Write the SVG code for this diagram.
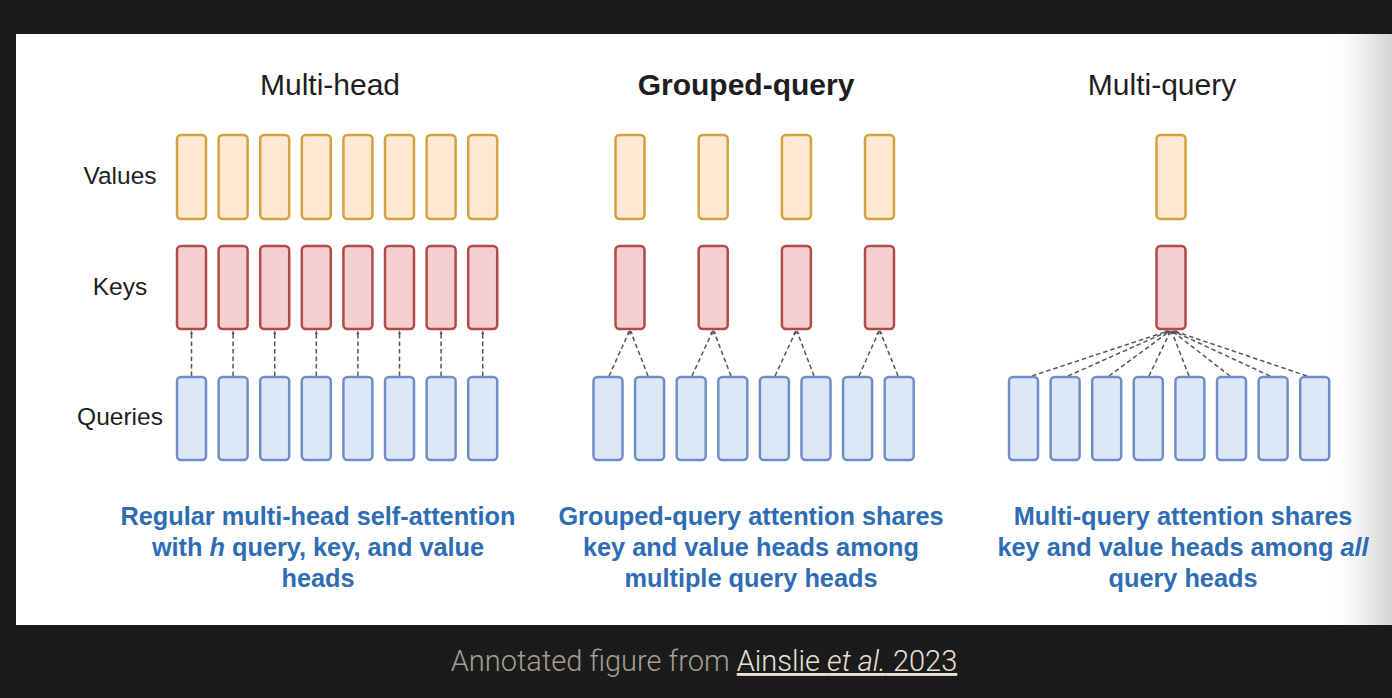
<svg xmlns="http://www.w3.org/2000/svg" width="1392" height="698" viewBox="0 0 1392 698">
<defs>
<linearGradient id="edge" x1="0" y1="0" x2="1" y2="0">
<stop offset="0" stop-color="#ffffff" stop-opacity="0"/>
<stop offset="0.55" stop-color="#efefef" stop-opacity="1"/>
<stop offset="1" stop-color="#d4d4d4" stop-opacity="1"/>
</linearGradient>
<marker id="ah" viewBox="0 0 6 6" refX="5" refY="3" markerWidth="4" markerHeight="4" orient="auto" markerUnits="userSpaceOnUse">
<path d="M0,0.5 L6,3 L0,5.5 Z" fill="#555"/>
</marker>
<style>
.v{fill:#fce8d3;stroke:#d4a23c;stroke-width:2.5}
.k{fill:#f4cfcf;stroke:#b24a48;stroke-width:2.5}
.q{fill:#dce7f8;stroke:#6e8fc6;stroke-width:2.5}
.c line{stroke:#555;stroke-width:1.5;stroke-dasharray:4.5 3;marker-end:url(#ah)}
.title{font-family:"Liberation Sans",Arial,sans-serif;font-size:30px;fill:#1e1e1e;text-anchor:middle}
.row{font-family:"Liberation Sans",Arial,sans-serif;font-size:24.5px;fill:#1e1e1e;text-anchor:middle}
.cap{font-family:"Liberation Sans",Arial,sans-serif;font-size:25.3px;font-weight:bold;fill:#2e6db4;text-anchor:middle}
.foot{font-family:Roboto,"Liberation Sans",sans-serif;font-size:29px;font-weight:300;text-anchor:middle}
</style>
</defs>
<rect x="0" y="0" width="1392" height="698" fill="#1b1b1b"/>
<rect x="16" y="34" width="1376" height="591" fill="#ffffff"/>
<rect x="1328" y="34" width="64" height="591" fill="url(#edge)"/>

<text class="title" x="330" y="95">Multi-head</text>
<text class="title" x="746" y="95" font-weight="bold">Grouped-query</text>
<text class="title" x="1162" y="95">Multi-query</text>

<text class="row" x="120" y="184">Values</text>
<text class="row" x="120" y="295">Keys</text>
<text class="row" x="120" y="425">Queries</text>

<g id="connectors" class="c">
<line x1="191.5" y1="376" x2="191.5" y2="331"/>
<line x1="233.1" y1="376" x2="233.1" y2="331"/>
<line x1="274.7" y1="376" x2="274.7" y2="331"/>
<line x1="316.3" y1="376" x2="316.3" y2="331"/>
<line x1="357.9" y1="376" x2="357.9" y2="331"/>
<line x1="399.5" y1="376" x2="399.5" y2="331"/>
<line x1="441.1" y1="376" x2="441.1" y2="331"/>
<line x1="482.7" y1="376" x2="482.7" y2="331"/>

<line x1="609" y1="376" x2="629.5" y2="331"/>
<line x1="648" y1="376" x2="630.5" y2="331"/>
<line x1="692" y1="376" x2="712.7" y2="331"/>
<line x1="731" y1="376" x2="713.7" y2="331"/>
<line x1="775" y1="376" x2="795.9" y2="331"/>
<line x1="814" y1="376" x2="796.9" y2="331"/>
<line x1="859" y1="376" x2="879" y2="331"/>
<line x1="898" y1="376" x2="880" y2="331"/>

<line x1="1032" y1="376" x2="1168" y2="331"/>
<line x1="1068" y1="376" x2="1169" y2="331"/>
<line x1="1109" y1="376" x2="1170" y2="331"/>
<line x1="1149" y1="376" x2="1170.5" y2="331"/>
<line x1="1189" y1="376" x2="1171.5" y2="331"/>
<line x1="1230" y1="376" x2="1172" y2="331"/>
<line x1="1270" y1="376" x2="1173" y2="331"/>
<line x1="1307" y1="376" x2="1174" y2="331"/>
</g>

<g id="mh-values">
<rect class="v" x="177" y="135" width="29" height="84" rx="4"/>
<rect class="v" x="218.6" y="135" width="29" height="84" rx="4"/>
<rect class="v" x="260.2" y="135" width="29" height="84" rx="4"/>
<rect class="v" x="301.8" y="135" width="29" height="84" rx="4"/>
<rect class="v" x="343.4" y="135" width="29" height="84" rx="4"/>
<rect class="v" x="385" y="135" width="29" height="84" rx="4"/>
<rect class="v" x="426.6" y="135" width="29" height="84" rx="4"/>
<rect class="v" x="468.2" y="135" width="29" height="84" rx="4"/>
</g>
<g id="mh-keys">
<rect class="k" x="177" y="246" width="29" height="83" rx="4"/>
<rect class="k" x="218.6" y="246" width="29" height="83" rx="4"/>
<rect class="k" x="260.2" y="246" width="29" height="83" rx="4"/>
<rect class="k" x="301.8" y="246" width="29" height="83" rx="4"/>
<rect class="k" x="343.4" y="246" width="29" height="83" rx="4"/>
<rect class="k" x="385" y="246" width="29" height="83" rx="4"/>
<rect class="k" x="426.6" y="246" width="29" height="83" rx="4"/>
<rect class="k" x="468.2" y="246" width="29" height="83" rx="4"/>
</g>
<g id="mh-queries">
<rect class="q" x="177" y="377" width="29" height="83" rx="4"/>
<rect class="q" x="218.6" y="377" width="29" height="83" rx="4"/>
<rect class="q" x="260.2" y="377" width="29" height="83" rx="4"/>
<rect class="q" x="301.8" y="377" width="29" height="83" rx="4"/>
<rect class="q" x="343.4" y="377" width="29" height="83" rx="4"/>
<rect class="q" x="385" y="377" width="29" height="83" rx="4"/>
<rect class="q" x="426.6" y="377" width="29" height="83" rx="4"/>
<rect class="q" x="468.2" y="377" width="29" height="83" rx="4"/>
</g>

<g id="gq-values">
<rect class="v" x="615.5" y="135" width="29" height="84" rx="4"/>
<rect class="v" x="698.7" y="135" width="29" height="84" rx="4"/>
<rect class="v" x="781.9" y="135" width="29" height="84" rx="4"/>
<rect class="v" x="865" y="135" width="29" height="84" rx="4"/>
</g>
<g id="gq-keys">
<rect class="k" x="615.5" y="246" width="29" height="83" rx="4"/>
<rect class="k" x="698.7" y="246" width="29" height="83" rx="4"/>
<rect class="k" x="781.9" y="246" width="29" height="83" rx="4"/>
<rect class="k" x="865" y="246" width="29" height="83" rx="4"/>
</g>
<g id="gq-queries">
<rect class="q" x="593.5" y="377" width="29" height="83" rx="4"/>
<rect class="q" x="635.1" y="377" width="29" height="83" rx="4"/>
<rect class="q" x="676.7" y="377" width="29" height="83" rx="4"/>
<rect class="q" x="718.3" y="377" width="29" height="83" rx="4"/>
<rect class="q" x="759.9" y="377" width="29" height="83" rx="4"/>
<rect class="q" x="801.5" y="377" width="29" height="83" rx="4"/>
<rect class="q" x="843.1" y="377" width="29" height="83" rx="4"/>
<rect class="q" x="884.7" y="377" width="29" height="83" rx="4"/>
</g>

<g id="mq-value">
<rect class="v" x="1156.5" y="135" width="29" height="84" rx="4"/>
</g>
<g id="mq-key">
<rect class="k" x="1156.5" y="246" width="29" height="83" rx="4"/>
</g>
<g id="mq-queries">
<rect class="q" x="1009" y="377" width="29" height="83" rx="4"/>
<rect class="q" x="1050.6" y="377" width="29" height="83" rx="4"/>
<rect class="q" x="1092.2" y="377" width="29" height="83" rx="4"/>
<rect class="q" x="1133.8" y="377" width="29" height="83" rx="4"/>
<rect class="q" x="1175.4" y="377" width="29" height="83" rx="4"/>
<rect class="q" x="1217" y="377" width="29" height="83" rx="4"/>
<rect class="q" x="1258.6" y="377" width="29" height="83" rx="4"/>
<rect class="q" x="1300.2" y="377" width="29" height="83" rx="4"/>
</g>

<g id="caption-mh" class="cap">
<text x="318" y="525">Regular multi-head self-attention</text>
<text x="318" y="556">with <tspan font-style="italic">h</tspan> query, key, and value</text>
<text x="318" y="587">heads</text>
</g>
<g id="caption-gq" class="cap">
<text x="751" y="525">Grouped-query attention shares</text>
<text x="751" y="556">key and value heads among</text>
<text x="751" y="587">multiple query heads</text>
</g>
<g id="caption-mq" class="cap">
<text x="1183" y="525">Multi-query attention shares</text>
<text x="1183" y="556">key and value heads among <tspan font-style="italic">all</tspan></text>
<text x="1183" y="587">query heads</text>
</g>

<text class="foot" x="704" y="671"><tspan fill="#a59e90">Annotated figure from </tspan><tspan fill="#e8e2d4" text-decoration="underline">Ainslie <tspan font-style="italic">et al.</tspan> 2023</tspan></text>
</svg>
